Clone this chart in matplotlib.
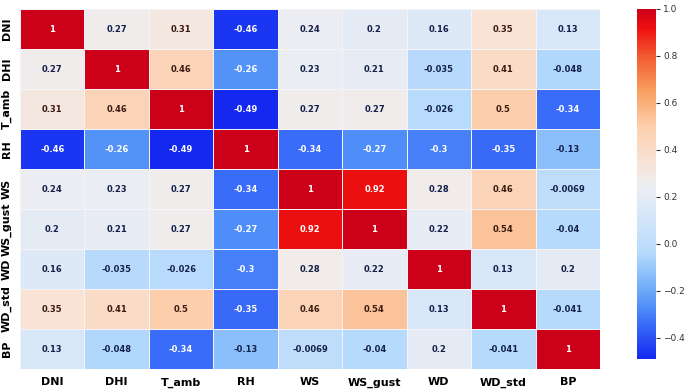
import numpy as np
import matplotlib
matplotlib.use("Agg")
import matplotlib.pyplot as plt
import seaborn as sns
from matplotlib.colors import LinearSegmentedColormap

labels = ["DNI", "DHI", "T_amb", "RH", "WS", "WS_gust", "WD", "WD_std", "BP"]

dni = [1, 0.27, 0.31, -0.46, 0.24, 0.2, 0.16, 0.35, 0.13]
dhi = [0.27, 1, 0.46, -0.26, 0.23, 0.21, -0.035, 0.41, -0.048]
t_amb = [0.31, 0.46, 1, -0.49, 0.27, 0.27, -0.026, 0.5, -0.34]
rh = [-0.46, -0.26, -0.49, 1, -0.34, -0.27, -0.3, -0.35, -0.13]
ws = [0.24, 0.23, 0.27, -0.34, 1, 0.92, 0.28, 0.46, -0.0069]
ws_gust = [0.2, 0.21, 0.27, -0.27, 0.92, 1, 0.22, 0.54, -0.04]
wd = [0.16, -0.035, -0.026, -0.3, 0.28, 0.22, 1, 0.13, 0.2]
wd_std = [0.35, 0.41, 0.5, -0.35, 0.46, 0.54, 0.13, 1, -0.041]
bp = [0.13, -0.048, -0.34, -0.13, -0.0069, -0.04, 0.2, -0.041, 1]

corr = np.array([dni, dhi, t_amb, rh, ws, ws_gust, wd, wd_std, bp])

vmin, vmax = -0.49, 1.0
def pos(v):
    return (v - vmin) / (vmax - vmin)

cmap = LinearSegmentedColormap.from_list("bright_cw", [
    (pos(-0.49), "#1428f0"),
    (pos(-0.34), "#3a6ef8"),
    (pos(-0.27), "#5090f8"),
    (pos(-0.13), "#8cc0fb"),
    (pos(-0.04), "#b6dafc"),
    (pos(0.13), "#d8e7f8"),
    (pos(0.25), "#eeeef2"),
    (pos(0.35), "#f8e3d5"),
    (pos(0.5), "#fccfae"),
    (pos(0.65), "#f8a060"),
    (pos(0.8), "#f25a30"),
    (pos(0.92), "#ee1010"),
    (pos(1.0), "#cc0018"),
])

fig = plt.figure(figsize=(6.85, 3.89), dpi=100)
ax = fig.add_axes([20/685, 1 - 369/389, 580/685, 360/389])
cax = fig.add_axes([637/685, 1 - 359/389, 19/685, 350/389])

sns.heatmap(corr, ax=ax, cbar_ax=cax, cmap=cmap, vmin=vmin, vmax=vmax,
            annot=True, linewidths=0.5, linecolor="#f4f4f8",
            annot_kws={"fontsize": 6, "fontweight": "bold"},
            xticklabels=labels, yticklabels=labels)

# text colours: white on strong cells, dark tinted on pale ones
for t, v in zip(ax.texts, corr.flatten()):
    if v > 0.8 or v < -0.2:
        t.set_color("white")
    elif v >= 0.3:
        t.set_color("#3a1a10")
    else:
        t.set_color("#14204a")

ax.tick_params(length=0, pad=6)
ax.set_xticklabels(labels, rotation=0, fontsize=8, fontweight="bold")
ax.set_yticklabels(labels, rotation=90, fontsize=8, fontweight="bold", va="center")

cax.tick_params(labelsize=6.5, length=3, pad=2, colors="#333333")
cax.set_yticks([-0.4, -0.2, 0.0, 0.2, 0.4, 0.6, 0.8, 1.0])
for s in cax.spines.values():
    s.set_visible(False)

fig.savefig("out.png", dpi=100)
